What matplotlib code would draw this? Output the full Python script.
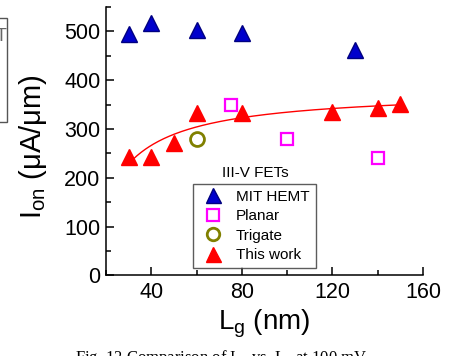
import numpy as np
import matplotlib
matplotlib.use("Agg")
import matplotlib.pyplot as plt
from matplotlib.patches import Rectangle
from matplotlib.ticker import MultipleLocator

plt.rcParams['font.family'] = ['Liberation Sans', 'DejaVu Sans']
plt.rcParams['mathtext.fontset'] = 'custom'
plt.rcParams['mathtext.rm'] = 'Liberation Sans'
plt.rcParams['mathtext.it'] = 'Liberation Sans'

# Gate length (nm) and on-current (uA/um) for each device family
hemt_lg = [30, 40, 60, 80, 130]
hemt_ion = [495, 518, 503, 497, 461]

planar_lg = [75, 100, 140]
planar_ion = [350, 280, 240]

trigate_lg = [60]
trigate_ion = [280]

work_lg = [30, 40, 50, 60, 80, 120, 140, 150]
work_ion = [242, 242, 272, 332, 332, 335, 343, 352]

x_ticks = [40, 80, 120, 160]
y_ticks = [0, 100, 200, 300, 400, 500]

W, H = 464, 356
fig = plt.figure(figsize=(W / 100, H / 100), dpi=100)
ax = fig.add_axes([106 / W, 1 - 275.3 / H, 317 / W, 268.3 / H])

ax.plot(hemt_lg, hemt_ion, ls='none', marker='^', ms=12, mfc='#0000CC',
        mec='#000080', mew=1.0, label='MIT HEMT', zorder=3)
ax.plot(planar_lg, planar_ion, ls='none', marker='s', ms=9, mfc='none',
        mec='#FF00FF', mew=1.6, label='Planar', zorder=3)
ax.plot(trigate_lg, trigate_ion, ls='none', marker='o', ms=10, mfc='none',
        mec='#808000', mew=2.0, label='Trigate', zorder=3)
ax.plot(work_lg, work_ion, ls='none', marker='^', ms=12, mfc='#FF0000',
        mec='#FF0000', mew=1.0, label='This work', zorder=3)

# Saturating fit I = A + B / Lg through this work's devices
b, a = np.polyfit(1.0 / np.array(work_lg, float), np.array(work_ion, float), 1)
xf = np.linspace(32, 150, 200)
ax.plot(xf, a + b / xf, color='#FF0000', lw=1.0, zorder=2)

ax.set_xlim(20, 160)
ax.set_ylim(0, 550)
ax.set_xticks(x_ticks)
ax.set_yticks(y_ticks)
ax.xaxis.set_minor_locator(MultipleLocator(20))
ax.yaxis.set_minor_locator(MultipleLocator(50))
ax.tick_params(which='both', direction='in', width=1.1, labelsize=15.5)
ax.tick_params(which='major', length=6)
ax.tick_params(which='minor', length=3.5)
ax.tick_params(axis='x', pad=5)
ax.tick_params(axis='y', pad=4)
for s in ('top', 'right'):
    ax.spines[s].set_visible(False)
for s in ('left', 'bottom'):
    ax.spines[s].set_linewidth(1.1)

ax.set_xlabel(r'L$_\mathregular{g}$ (nm)', fontsize=20, labelpad=3)
ax.set_ylabel(r'I$_\mathregular{on}$ ($\mathregular{\mu}$A/$\mathregular{\mu}$m)',
              fontsize=21)
ax.yaxis.set_label_coords(-0.18, 0.48)

leg = ax.legend(loc='lower left', bbox_to_anchor=(0.275, 0.026), fontsize=11,
                frameon=True, fancybox=False, edgecolor='#333333',
                borderpad=0.4, handletextpad=0.6, labelspacing=0.36,
                handlelength=1.8, borderaxespad=0, markerscale=0.9)
leg.get_frame().set_linewidth(1.0)
fig.text(255 / W, 1 - 173 / H, 'III-V FETs', ha='center', va='center',
         fontsize=11)

# Neighbouring panel frame and caption at the page edges
fig.add_artist(Rectangle((-0.05, 1 - 122 / H), 7.5 / W + 0.05, (122 - 18) / H,
                         transform=fig.transFigure, fill=False,
                         edgecolor='#555555', lw=1.0))
fig.text(1.5 / W, 1 - 36.5 / H, 'T', fontsize=13, color='#666666',
         ha='center', va='center')
fig.text(75 / W, 1 - 362 / H, r'Fig. 12 Comparison of I$_\mathregular{on}$ vs. '
         r'L$_\mathregular{g}$ at 100 mV', family='Liberation Serif',
         fontsize=12, ha='left', va='baseline')

fig.savefig('out.png', dpi=100)
